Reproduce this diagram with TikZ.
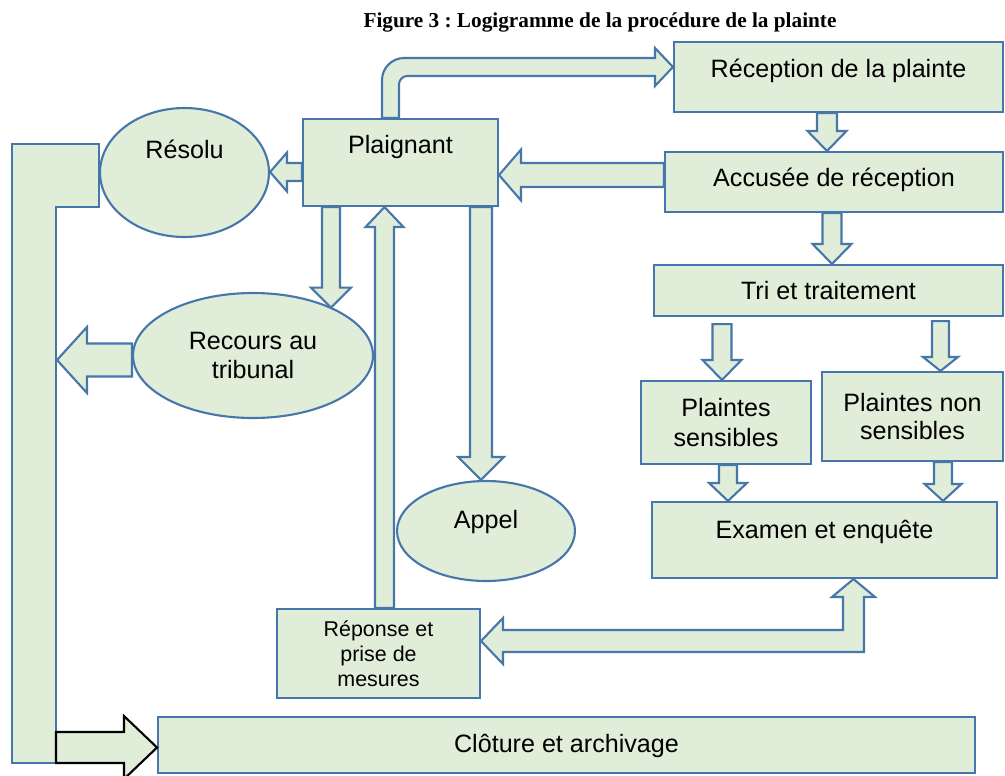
\documentclass[tikz,border=0pt]{standalone}
\usepackage{fontspec}
\setmainfont{Liberation Sans}
\newfontfamily\titlefont{Liberation Serif}
\usetikzlibrary{calc, shapes.geometric}
\definecolor{boxfill}{HTML}{E0EDD8}
\definecolor{boxline}{HTML}{4676AA}
\frenchspacing

% block arrow: [opts] start, tip, shaft half width, head half width, head length
\newcommand{\barrow}[6][]{%
  \coordinate (ba) at #2;
  \coordinate (bb) at #3;
  \coordinate (bh) at ($(bb)!#6!(ba)$);
  \draw[blockarrow,#1] ($(ba)!#4!90:(bb)$) -- ($(bh)!#4!90:(bb)$)
    -- ($(bh)!#5!90:(bb)$) -- (bb) -- ($(bh)!#5!-90:(bb)$)
    -- ($(bh)!#4!-90:(bb)$) -- ($(ba)!#4!-90:(bb)$) -- cycle;
}

\begin{document}
\begin{tikzpicture}[x=0.02cm, y=-0.02cm,
  every node/.style={font=\fontsize{14.3}{17}\selectfont},
  box/.style={rectangle, draw=boxline, fill=boxfill, line width=1.2pt, align=center},
  oval/.style={ellipse, draw=boxline, fill=boxfill, line width=1.2pt, align=center},
  blockarrow/.style={draw=boxline, fill=boxfill, line width=1.2pt, line join=miter},
  lift/.style 2 args={text height=#1, text depth=#2, inner ysep=0pt},
]
\clip (0,0) rectangle (1005,775);

\node[font=\titlefont\bfseries\fontsize{12.1}{14}\selectfont, anchor=base] (title) at (600,27) {Figure 3 : Logigramme de la procédure de la plainte};

% right column
\node[box, minimum width=6.58cm, minimum height=1.40cm, lift={0.70cm}{0.70cm}] (rec) at (838.5,77) {Réception de la plainte};
\node[box, minimum width=6.76cm, minimum height=1.20cm, lift={0.68cm}{0.52cm}] (acc) at (834,182) {Accusée de réception};
\node[box, minimum width=6.98cm, minimum height=1.02cm, lift={0.68cm}{0.34cm}] (tri) at (828.5,290.5) {Tri et traitement};
\node[box, minimum width=3.40cm, minimum height=1.66cm] (sens) at (726,422.5) {Plaintes\\sensibles};
\node[box, minimum width=3.62cm, minimum height=1.78cm, font=\fontsize{14.3}{16}\selectfont] (nsens) at (912.5,416.5) {Plaintes non\\sensibles};
\node[box, minimum width=6.90cm, minimum height=1.52cm, lift={0.72cm}{0.80cm}] (exam) at (824.5,540) {Examen et enquête};

% left part
\node[box, minimum width=3.90cm, minimum height=1.74cm, lift={0.68cm}{1.06cm}] (plaig) at (400.5,162.5) {Plaignant};
\node[box, minimum width=4.06cm, minimum height=1.78cm, font=\fontsize{12.2}{14.2}\selectfont] (rep) at (378.5,653.5) {Réponse et\\prise de\\mesures};
\node[box, minimum width=16.34cm, minimum height=1.12cm, lift={0.70cm}{0.42cm}] (clo) at (566.5,745) {Clôture et archivage};
\node[oval, minimum width=3.38cm, minimum height=2.58cm, lift={0.40cm}{0.98cm}] (res) at (184.5,172.5) {Résolu};
\node[oval, minimum width=4.80cm, minimum height=2.50cm] (trib) at (253,355.5) {Recours au\\tribunal};
\node[oval, minimum width=3.56cm, minimum height=2.00cm, lift={0.40cm}{0.52cm}] (app) at (486,531) {Appel};

% big L bar down to the closing
\draw[blockarrow] (12,144) -- (res.west |- 0,144) -- (res.west |- 0,207) -- (56,207) -- (56,763) -- (12,763) -- cycle;
\draw[blockarrow, draw=black] (56,732) -- (124,732) -- (124,716) -- (clo.west |- 0,747.5) -- (124,779) -- (124,763) -- (56,763) -- cycle;
\coordinate (lbar) at (57,360);

% bent arrows
\draw[blockarrow] (382,0 |- plaig.north) -- (382,80) .. controls (382,68) and (392,58) .. (404,58) -- (655,58) -- (655,48) -- (rec.west |- 0,67) -- (655,86) -- (655,76) -- (407,76) .. controls (403,76) and (399,80) .. (399,84) -- (399,0 |- plaig.north) -- cycle;
\draw[blockarrow] (853.5,0 |- exam.south) -- (875,597) -- (864,597) -- (864,652) -- (503,652) -- (503,664) -- (rep.east |- 0,641) -- (503,618) -- (503,630) -- (843,630) -- (843,597) -- (832,597) -- cycle;

% straight arrows
\barrow{(827,0 |- rec.south)}{(827,0 |- acc.north)}{0.20cm}{0.39cm}{0.40cm}
\barrow{(acc.west |- 0,175)}{(plaig.east |- 0,175)}{0.24cm}{0.51cm}{0.44cm}
\barrow{(832,0 |- acc.south)}{(832,0 |- tri.north)}{0.19cm}{0.39cm}{0.40cm}
\barrow{([yshift=-0.14cm]722,0 |- tri.south)}{(722,0 |- sens.north)}{0.19cm}{0.39cm}{0.40cm}
\barrow{([yshift=-0.08cm]940.5,0 |- tri.south)}{(940.5,0 |- nsens.north)}{0.17cm}{0.35cm}{0.28cm}
\barrow{(728,0 |- sens.south)}{(728,0 |- exam.north)}{0.18cm}{0.38cm}{0.36cm}
\barrow{(943,0 |- nsens.south)}{(943,0 |- exam.north)}{0.18cm}{0.37cm}{0.34cm}
\barrow{(plaig.west |- 0,172)}{(res.east |- 0,172)}{0.18cm}{0.39cm}{0.34cm}
\barrow{(331,0 |- plaig.south)}{(331,0 |- trib.31)}{0.18cm}{0.40cm}{0.40cm}
\barrow{(384.5,0 |- rep.north)}{(384.5,0 |- plaig.south)}{0.19cm}{0.38cm}{0.40cm}
\barrow{(481,0 |- plaig.south)}{(481,0 |- app.north)}{0.22cm}{0.46cm}{0.46cm}
\barrow{(trib.west |- 0,360)}{(lbar)}{0.33cm}{0.66cm}{0.60cm}

\end{tikzpicture}
\end{document}
